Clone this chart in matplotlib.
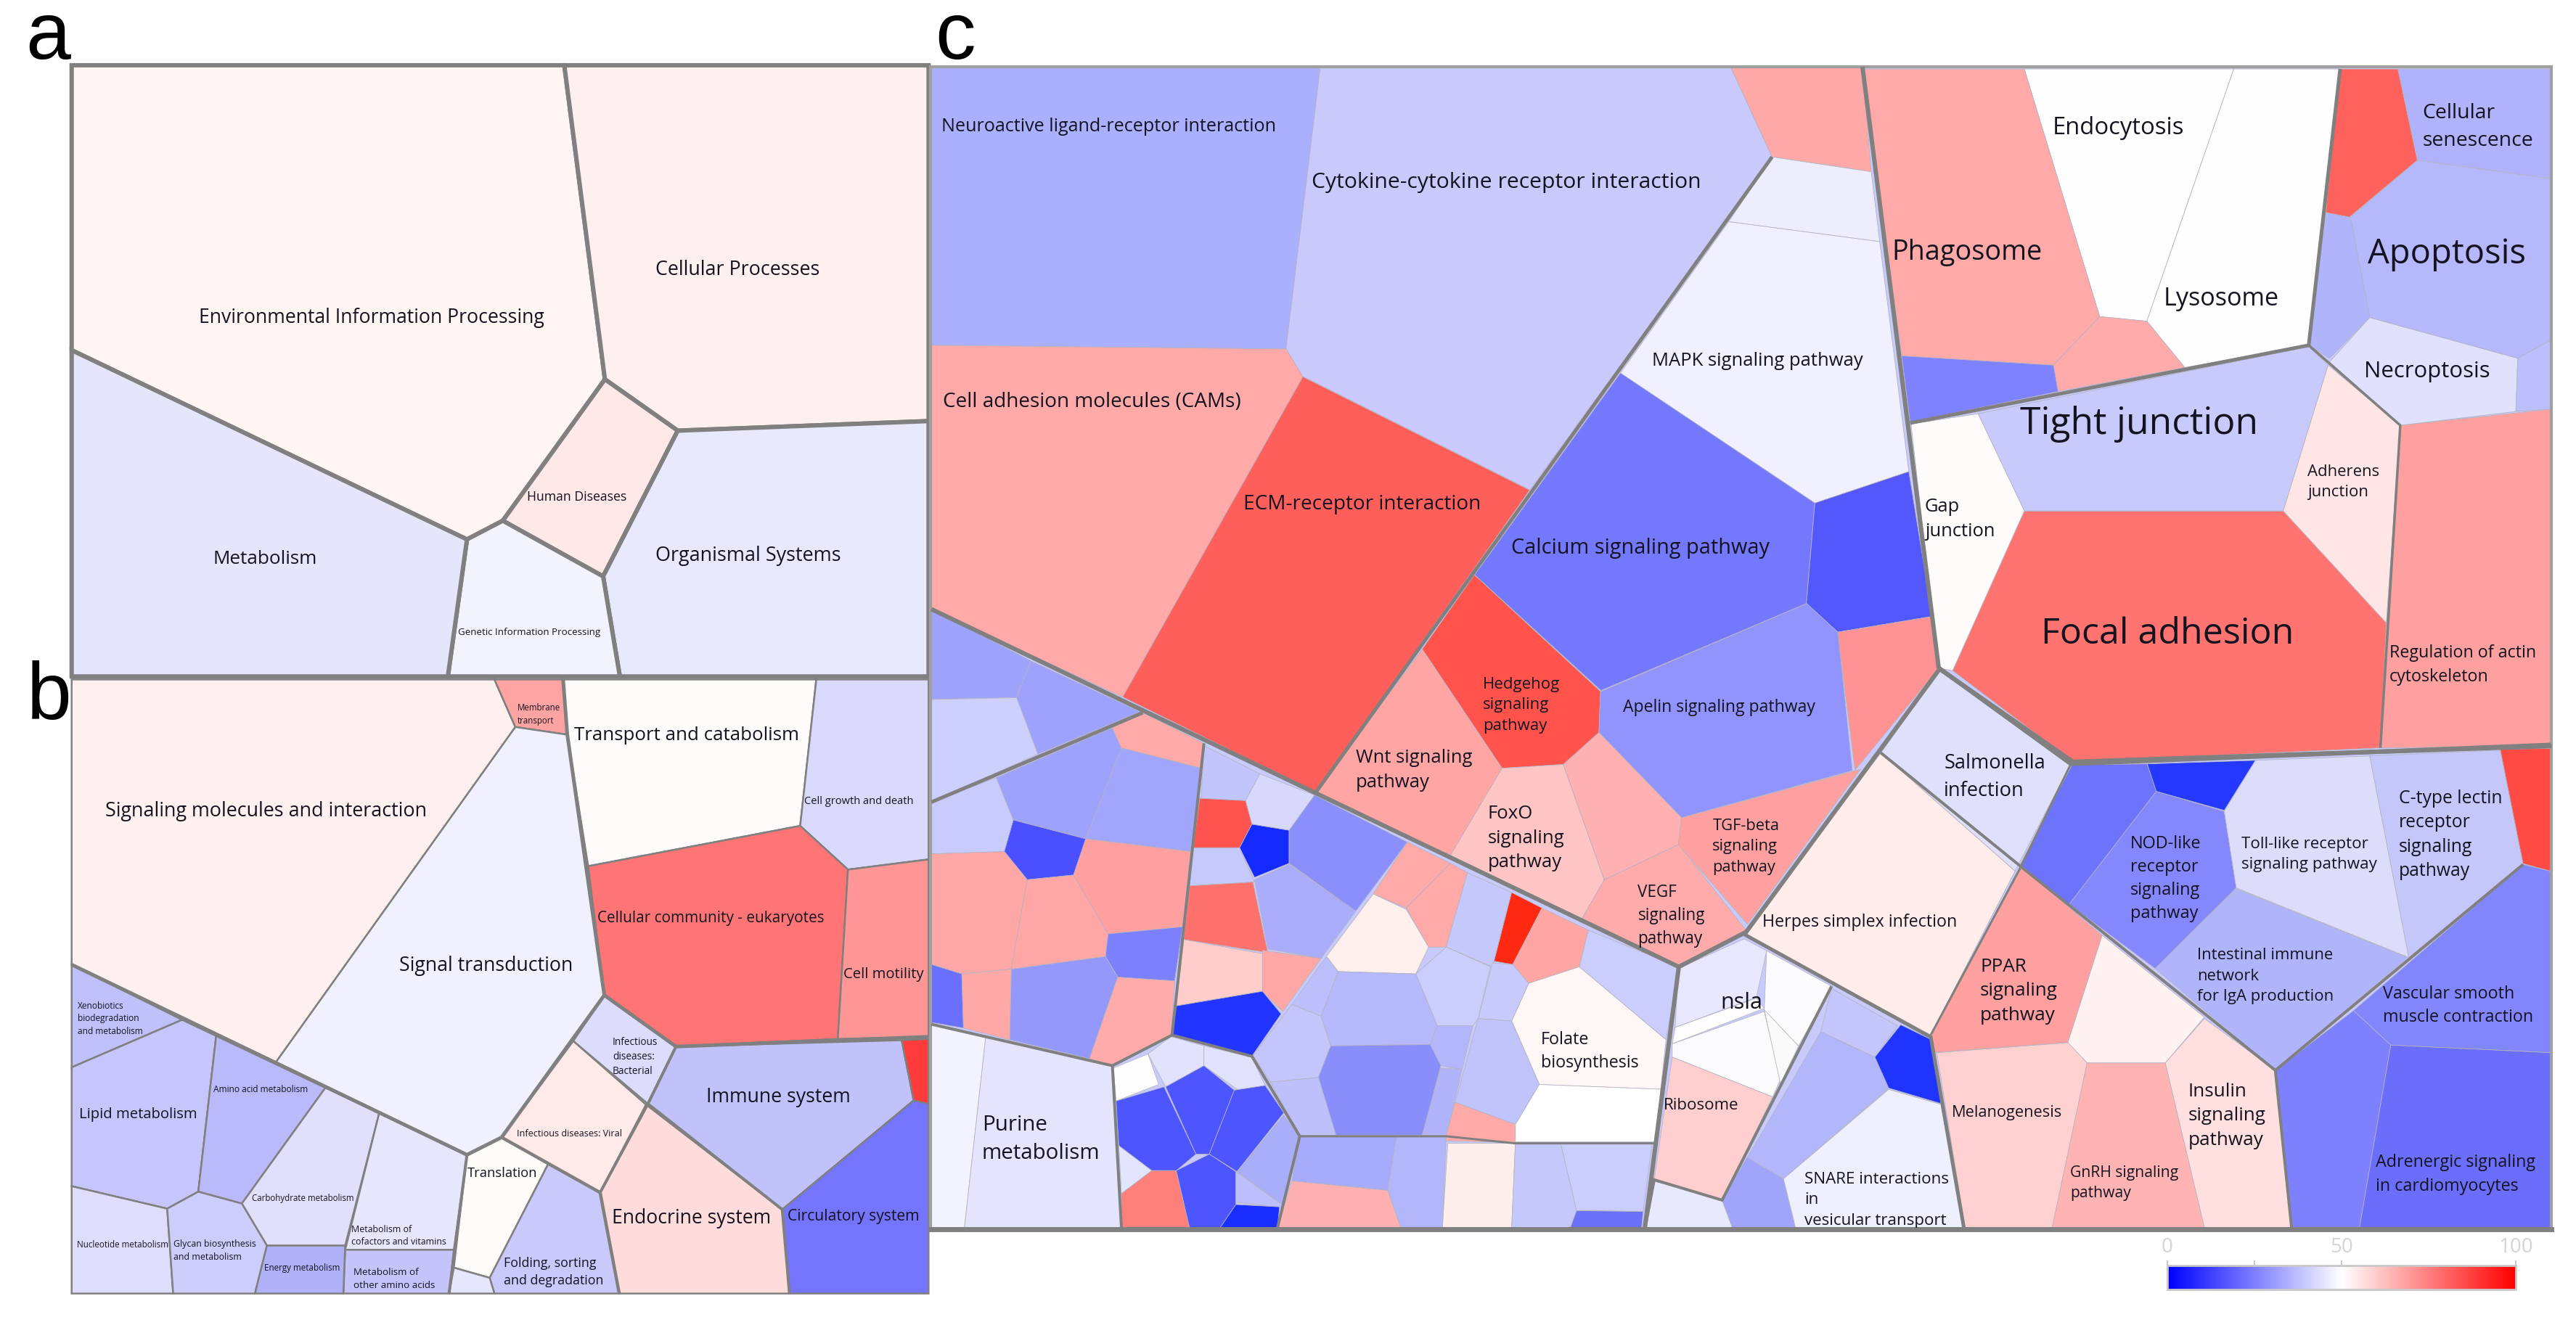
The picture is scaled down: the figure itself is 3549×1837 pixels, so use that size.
import matplotlib
matplotlib.use("Agg")
import matplotlib.pyplot as plt
import numpy as np
from matplotlib.colors import LinearSegmentedColormap
from matplotlib.patches import Polygon, Rectangle

W, H = 3549, 1837
GREY = "#808080"

# Voronoi cells have no scale, so vertices are read off the picture per region:
# each region is (x0, y0, width, height) in image pixels, vertices run 0..1568 inside it.
REGION_A = (0, 0, 1290, 940)
REGION_B = (0, 920, 1290, 917)
REGION_LOW_L = (1270, 820, 1150, 1017)
REGION_LOW_R = (2250, 880, 1299, 957)
REGION_TOP_L = (1270, 60, 1400, 1000)
REGION_TOP_R = (2550, 60, 999, 1000)

cells_a = [
    ("#fff5f3", [(120, 150), (945, 150), (1013, 872), (842, 1197), (782, 1240), (120, 805)]),
    ("#fff0f0", [(945, 150), (1555, 150), (1555, 968), (1135, 990), (1013, 872)]),
    ("#ffe8e8", [(1013, 872), (1135, 990), (1010, 1325), (842, 1197)]),
    ("#e9e9fd", [(1135, 990), (1555, 968), (1555, 1555), (1038, 1555), (1010, 1325)]),
    ("#f3f3fe", [(782, 1240), (842, 1197), (1010, 1325), (1038, 1555), (750, 1555)]),
    ("#e5e5fc", [(120, 805), (782, 1240), (750, 1555), (120, 1555)]),
]

cells_b = [
    ("#fff0f0", [(120, 28), (828, 28), (863, 140), (462, 930), (120, 700)]),
    ("#ffa3a3", [(828, 28), (943, 28), (950, 158), (863, 140)]),
    ("#f0f0fe", [(863, 140), (950, 158), (1012, 772), (960, 880), (840, 1107), (782, 1148), (462, 930)]),
    ("#fffbfa", [(943, 28), (1367, 28), (1340, 373), (985, 468), (950, 158)]),
    ("#d9d9fb", [(1367, 28), (1555, 28), (1555, 452), (1420, 476), (1340, 373)]),
    ("#ff7575", [(985, 468), (1340, 373), (1420, 476), (1403, 875), (1132, 893), (1012, 772)]),
    ("#ff9696", [(1420, 476), (1555, 452), (1555, 870), (1403, 875)]),
    ("#c2c2fb", [(1132, 893), (1510, 878), (1530, 1020), (1310, 1277), (1085, 1028)]),
    ("#ff3b3b", [(1510, 878), (1555, 875), (1555, 1030), (1530, 1020)]),
    ("#7474fd", [(1530, 1020), (1555, 1028), (1555, 1475), (1322, 1475), (1310, 1277)]),
    ("#dcdcfc", [(1012, 772), (1132, 893), (1085, 1028), (960, 880)]),
    ("#ffe9e9", [(960, 880), (1082, 1030), (1005, 1237), (840, 1107)]),
    ("#ffdcdc", [(1082, 1030), (1310, 1277), (1322, 1475), (1037, 1475), (1005, 1237)]),
    ("#fffbf9", [(840, 1107), (918, 1170), (820, 1438), (760, 1414), (782, 1148)]),
    ("#c9c9fc", [(918, 1170), (1005, 1237), (1037, 1475), (828, 1475), (820, 1438)]),
    ("#e6e6fd", [(760, 1414), (820, 1438), (828, 1475), (752, 1475)]),
    ("#c0c0fb", [(120, 700), (305, 830), (120, 942)]),
    ("#c6c6fc", [(120, 942), (305, 830), (362, 868), (332, 1235), (280, 1275), (120, 1222)]),
    ("#babafb", [(362, 868), (545, 990), (405, 1263), (332, 1235)]),
    ("#e0e0fc", [(545, 990), (635, 1050), (578, 1362), (447, 1362), (405, 1263)]),
    ("#e6e6fd", [(635, 1050), (782, 1148), (760, 1372), (578, 1372)]),
    ("#c4c4fb", [(578, 1372), (760, 1372), (752, 1475), (575, 1475)]),
    ("#dedefc", [(120, 1222), (280, 1275), (290, 1475), (120, 1475)]),
    ("#cdcdfc", [(280, 1275), (332, 1235), (405, 1263), (447, 1362), (427, 1475), (290, 1475)]),
    ("#b1b1fa", [(447, 1362), (578, 1362), (575, 1475), (427, 1475)]),
]

cells_top_l = [
    ("#abb0fe", [(14, 50), (615, 50), (562, 660), (14, 652)]),
    ("#c9c9fc", [(615, 50), (1248, 50), (1312, 245), (938, 965), (588, 720), (562, 660)]),
    ("#ffa8a8", [(1248, 50), (1451, 50), (1465, 277), (1312, 245)]),
    ("#ededfd", [(1312, 245), (1465, 277), (1478, 428), (1245, 385)]),
    ("#f0f0fe", [(1245, 385), (1478, 428), (1523, 925), (1378, 993), (1078, 712)]),
    ("#7478fd", [(1078, 712), (1378, 993), (1365, 1210), (1048, 1398), (853, 1148)]),
    ("#5358fd", [(1378, 993), (1523, 925), (1559, 1238), (1413, 1272), (1365, 1210)]),
    ("#ffa9a9", [(14, 652), (562, 660), (588, 720), (310, 1412), (14, 1222)]),
    ("#ff5f5b", [(588, 720), (938, 965), (608, 1618), (310, 1412)]),
    ("#ff9292", [(1413, 1272), (1559, 1238), (1569, 1350), (1440, 1570)]),
]

cells_top_r = [
    ("#ff7470", [(375, 1010), (935, 1010), (1158, 1252), (1145, 1522), (480, 1552), (220, 1355)]),
    ("#c9cafc", [(275, 800), (990, 655), (1032, 695), (935, 1010), (375, 1010)]),
    ("#fffbfa", [(130, 822), (275, 800), (375, 1010), (220, 1355), (190, 1350)]),
    ("#ffe5e5", [(1032, 695), (1188, 825), (1158, 1252), (935, 1010)]),
    ("#ffa0a0", [(1188, 825), (1515, 790), (1515, 1518), (1145, 1522), (1158, 1252)]),
    ("#e0e1fc", [(1122, 592), (1442, 680), (1438, 795), (1188, 825), (1035, 688)]),
    ("#bcbffc", [(1442, 680), (1515, 640), (1515, 790), (1438, 795)]),
    ("#b5b8fb", [(1225, 252), (1515, 292), (1515, 640), (1442, 680), (1122, 592), (1080, 375)]),
    ("#b0b4fb", [(1027, 365), (1080, 375), (1122, 592), (1035, 680), (990, 652)]),
    ("#ff615d", [(1058, 55), (1183, 55), (1225, 252), (1078, 375), (1027, 365)]),
    ("#b0b3fb", [(1183, 55), (1515, 55), (1515, 292), (1225, 252)]),
    ("#fffefe", [(375, 55), (828, 55), (640, 600), (538, 590)]),
    ("#fffefe", [(828, 55), (1058, 55), (990, 652), (722, 700), (640, 600)]),
    ("#ffa9a9", [(25, 55), (375, 55), (538, 590), (438, 695), (110, 675)]),
    ("#ffabab", [(538, 590), (640, 600), (722, 700), (448, 752), (438, 695)]),
    ("#7e82fc", [(110, 675), (438, 695), (448, 752), (128, 818)]),
]

cells_low_l = [
    ("#ff534c", [(1038, -43), (1275, 205), (1272, 292), (1205, 360), (1090, 368), (940, 115)]),
    ("#9094fc", [(1275, 205), (1662, 18), (1721, 79), (1748, 373), (1427, 473), (1272, 292)]),
    ("#ffa6a4", [(940, 115), (1090, 368), (993, 553), (740, 420)]),
    ("#ffc4c4", [(1090, 368), (1205, 360), (1282, 605), (1240, 688), (993, 553)]),
    ("#ffb0b0", [(1205, 360), (1272, 292), (1427, 473), (1422, 530), (1282, 605)]),
    ("#ffabab", [(1282, 605), (1422, 530), (1550, 715), (1425, 790), (1240, 688)]),
    ("#9ea3fc", [(18, 30), (205, 140), (178, 218), (18, 222)]),
    ("#9ea2fc", [(205, 140), (410, 248), (218, 338), (178, 218)]),
    ("#cdcffc", [(18, 222), (178, 218), (218, 338), (18, 440)]),
    ("#c9cbfc", [(18, 440), (140, 388), (172, 478), (155, 545), (18, 550)]),
    ("#9da2fc", [(140, 388), (358, 282), (375, 325), (308, 518), (172, 478)]),
    ("#ffa9a9", [(358, 282), (415, 250), (530, 315), (525, 368), (375, 325)]),
    ("#a1a5fc", [(375, 325), (525, 368), (505, 545), (308, 518)]),
    ("#4a4fff", [(172, 478), (308, 518), (285, 595), (198, 605), (155, 545)]),
    ("#ffa7a7", [(18, 550), (155, 545), (198, 605), (168, 795), (75, 805), (18, 785)]),
    ("#ffa7a7", [(198, 605), (285, 595), (350, 720), (345, 768), (168, 795)]),
    ("#ff9f9f", [(308, 518), (505, 545), (490, 705), (350, 720), (285, 595)]),
    ("#7c80fd", [(350, 720), (490, 705), (475, 820), (368, 812), (345, 768)]),
    ("#9498fb", [(168, 795), (345, 768), (368, 812), (315, 985), (165, 945)]),
    ("#ffabab", [(368, 812), (475, 820), (468, 935), (358, 1000), (315, 985)]),
    ("#ffa8a8", [(75, 805), (168, 795), (165, 945), (78, 920)]),
    ("#6b6ffd", [(18, 785), (75, 805), (78, 920), (18, 908)]),
    ("#f2f3fe", [(18, 912), (120, 940), (80, 1345), (18, 1345)]),
    ("#e4e5fd", [(120, 940), (358, 1000), (375, 1345), (80, 1345)]),
    ("#c2c5fb", [(530, 320), (635, 380), (608, 437), (525, 432)]),
    ("#d7d8fc", [(635, 380), (738, 425), (690, 500), (620, 487), (608, 437)]),
    ("#ff534f", [(522, 432), (608, 437), (620, 487), (597, 537), (510, 537)]),
    ("#142aff", [(620, 487), (690, 500), (690, 570), (625, 600), (597, 537)]),
    ("#c6c9fc", [(510, 537), (597, 537), (625, 610), (503, 618)]),
    ("#8a8ffc", [(738, 425), (912, 525), (815, 672), (690, 570), (690, 500)]),
    ("#a9adfb", [(625, 605), (690, 572), (815, 672), (750, 772), (650, 752)]),
    ("#ff716d", [(503, 618), (622, 610), (650, 760), (492, 732)]),
    ("#ffcccc", [(492, 732), (640, 762), (640, 842), (478, 873)]),
    ("#ffa7a5", [(640, 755), (750, 772), (678, 885), (640, 842)]),
    ("#2234ff", [(478, 873), (640, 842), (675, 890), (620, 980), (470, 935)]),
    ("#ffa9a9", [(912, 525), (993, 570), (910, 665), (848, 635)]),
    ("#ffa9a8", [(993, 570), (1025, 590), (985, 748), (952, 748), (910, 665)]),
    ("#ffefed", [(848, 635), (910, 668), (952, 748), (928, 805), (782, 800), (760, 768)]),
    ("#c5c8fb", [(1025, 590), (1108, 632), (1072, 790), (985, 748)]),
    ("#ff2810", [(1108, 632), (1165, 665), (1110, 785), (1075, 778)]),
    ("#ffa5a4", [(1165, 665), (1252, 712), (1235, 790), (1140, 825), (1110, 785)]),
    ("#cbcdfc", [(1252, 712), (1422, 790), (1398, 945), (1235, 790)]),
    ("#fff7f5", [(1235, 790), (1398, 945), (1388, 1050), (1160, 1040), (1108, 905), (1140, 825)]),
    ("#c8cafb", [(1072, 782), (1110, 785), (1140, 825), (1108, 905), (1045, 900)]),
    ("#cbcdfc", [(985, 748), (1068, 790), (1045, 900), (1035, 915), (968, 915), (928, 805)]),
    ("#b5b8fa", [(782, 800), (928, 805), (968, 915), (955, 955), (768, 958), (750, 895)]),
    ("#bcbffb", [(760, 768), (782, 800), (750, 895), (695, 870)]),
    ("#c3c5fb", [(695, 870), (750, 895), (768, 958), (745, 1025), (655, 1035), (622, 978)]),
    ("#b3b6fb", [(968, 915), (1035, 915), (1015, 1008), (975, 1000), (955, 955)]),
    ("#8a8efb", [(768, 958), (955, 955), (975, 1000), (940, 1148), (778, 1148), (745, 1025)]),
    ("#bdc0fb", [(655, 1035), (745, 1025), (778, 1148), (710, 1148)]),
    ("#b1b4fa", [(975, 1005), (1015, 1008), (985, 1150), (940, 1148)]),
    ("#c1c4fb", [(1045, 900), (1108, 905), (1160, 1040), (1115, 1125), (1002, 1078)]),
    ("#ffa9a9", [(1002, 1078), (1115, 1125), (1115, 1163), (982, 1160)]),
    ("#ffffff", [(1160, 1040), (1388, 1050), (1380, 1162), (1115, 1162), (1115, 1125)]),
    ("#a6abfb", [(710, 1150), (892, 1150), (875, 1265), (695, 1245)]),
    ("#b2b6fb", [(892, 1150), (985, 1150), (978, 1345), (900, 1345), (875, 1265)]),
    ("#ffefec", [(988, 1165), (1115, 1165), (1108, 1345), (978, 1345)]),
    ("#c5c8fb", [(1115, 1165), (1200, 1165), (1230, 1308), (1218, 1345), (1108, 1345)]),
    ("#cbcdfc", [(1200, 1165), (1372, 1165), (1355, 1310), (1230, 1308)]),
    ("#6c71fb", [(1230, 1308), (1355, 1310), (1352, 1345), (1218, 1345)]),
    ("#ffb0b0", [(695, 1245), (875, 1265), (900, 1345), (668, 1345)]),
    ("#fffefe", [(360, 1005), (425, 975), (445, 1040), (365, 1075)]),
    ("#e1e3fd", [(425, 975), (468, 938), (530, 958), (530, 1000), (458, 1045)]),
    ("#e1e3fd", [(530, 958), (620, 982), (645, 1042), (595, 1052), (530, 1000)]),
    ("#4d55ff", [(365, 1075), (455, 1045), (515, 1188), (478, 1223), (432, 1223), (370, 1170)]),
    ("#4d55ff", [(458, 1045), (530, 1000), (587, 1052), (540, 1188), (515, 1188)]),
    ("#4d55ff", [(587, 1052), (645, 1042), (680, 1100), (592, 1225), (540, 1188)]),
    ("#a9aefb", [(680, 1105), (708, 1150), (680, 1298), (592, 1225)]),
    ("#e3e4fd", [(370, 1170), (432, 1223), (375, 1272)]),
    ("#ff7f7b", [(432, 1223), (478, 1223), (503, 1345), (375, 1345), (375, 1272)]),
    ("#4d55ff", [(478, 1223), (540, 1188), (590, 1225), (590, 1295), (560, 1345), (503, 1345)]),
    ("#bcbffc", [(590, 1225), (680, 1298), (675, 1302), (590, 1290)]),
    ("#1a2fff", [(590, 1295), (672, 1300), (668, 1345), (560, 1345)]),
]

cells_low_r = [
    ("#ffa0a0", [(80, 405), (378, 295), (190, 645), (75, 465)]),
    ("#dee0fc", [(510, 72), (728, 283), (635, 525), (412, 258)]),
    ("#ffeceb", [(412, 258), (635, 525), (495, 895), (185, 668)]),
    ("#e7e8fd", [(75, 745), (185, 678), (222, 705), (205, 810), (70, 878)]),
    ("#fcfbfe", [(222, 705), (330, 785), (275, 920), (218, 840)]),
    ("#fffdfd", [(70, 878), (205, 812), (218, 835), (65, 915)]),
    ("#fbfbfe", [(65, 915), (218, 842), (245, 995), (232, 1035), (65, 945)]),
    ("#fbfafa", [(218, 838), (275, 920), (245, 1005)]),
    ("#ffcfcf", [(65, 945), (232, 1035), (148, 1268), (35, 1222)]),
    ("#e8e9fd", [(35, 1225), (148, 1268), (165, 1330), (20, 1330)]),
    ("#a0a5fb", [(148, 1268), (190, 1170), (250, 1220), (270, 1330), (165, 1330)]),
    ("#c3c5fb", [(330, 790), (440, 875), (402, 945), (312, 888)]),
    ("#b2b6fb", [(312, 888), (402, 945), (425, 1015), (250, 1220), (190, 1172)]),
    ("#1f35ff", [(445, 872), (495, 905), (512, 1050), (425, 1015), (402, 945)]),
    ("#eef0fe", [(425, 1018), (512, 1052), (550, 1330), (270, 1330), (250, 1220)]),
    ("#ffd0d0", [(505, 935), (725, 912), (755, 958), (697, 1330), (552, 1330)]),
    ("#ffb3b3", [(755, 958), (885, 958), (950, 1330), (697, 1330)]),
    ("#ffdfdf", [(885, 958), (950, 858), (1068, 975), (1095, 1330), (950, 1330)]),
    ("#ffa0a0", [(645, 515), (780, 670), (723, 912), (498, 935), (495, 895)]),
    ("#fff2f0", [(780, 670), (950, 855), (885, 958), (755, 958), (723, 912)]),
    ("#b0b4fb", [(1003, 565), (1288, 720), (1068, 975), (868, 745)]),
    ("#8488fc", [(870, 345), (983, 390), (1003, 563), (868, 745), (725, 600)]),
    ("#6e73fc", [(730, 285), (855, 283), (870, 345), (725, 600), (642, 515)]),
    ("#2438ff", [(855, 283), (1035, 275), (983, 388), (870, 345)]),
    ("#dcddfb", [(1035, 275), (1225, 265), (1290, 720), (1003, 563), (983, 390)]),
    ("#c5c7fb", [(1225, 265), (1442, 252), (1480, 508), (1290, 720)]),
    ("#ff4b43", [(1442, 250), (1525, 248), (1525, 525), (1480, 508)]),
    ("#8286fc", [(1480, 510), (1525, 525), (1525, 935), (1260, 918), (1198, 840)]),
    ("#7d81fd", [(1198, 840), (1260, 918), (1208, 1330), (1095, 1330), (1068, 975)]),
    ("#6b6efb", [(1260, 918), (1525, 935), (1525, 1330), (1208, 1330)]),
]

# heavier group borders, (points, width in image pixels)
borders_b = [
    ([(120, 700), (782, 1148), (840, 1107), (1012, 772), (950, 158), (943, 28)], 5),
    ([(782, 1148), (752, 1475)], 4),
    ([(840, 1107), (1005, 1237), (1037, 1475)], 4.5),
    ([(1012, 772), (1132, 893), (1555, 870)], 5),
    ([(1132, 893), (1085, 1028), (1005, 1237)], 4),
    ([(1085, 1028), (1310, 1277), (1322, 1475)], 4),
]
borders_top_l = [([(1312, 245), (608, 1618)], 5)]
borders_top_r = [
    ([(25, 50), (190, 1350)], 6),
    ([(128, 820), (990, 652), (1058, 55)], 5),
    ([(990, 652), (1188, 825), (1145, 1522)], 3.5),
    ([(190, 1350), (480, 1552), (1515, 1518)], 6),
]
borders_low_l = [
    ([(18, 30), (1422, 790), (1358, 1345)], 6),
    ([(1422, 790), (1550, 715)], 6),
    ([(18, 440), (415, 250)], 5),
    ([(530, 315), (470, 935), (358, 1000), (18, 912)], 4),
    ([(358, 1000), (375, 1345)], 4),
    ([(470, 935), (620, 980), (710, 1150), (668, 1345)], 4),
    ([(710, 1150), (985, 1150), (1115, 1165), (1375, 1165)], 3),
]
borders_low_r = [
    ([(185, 668), (510, 68), (728, 283), (1525, 240)], 6),
    ([(185, 668), (495, 900), (550, 1330)], 5),
    ([(412, 258), (645, 515), (1068, 975), (1095, 1330)], 4),
    ([(728, 283), (645, 515), (495, 895)], 3),
    ([(1068, 975), (1480, 510)], 4),
    ([(330, 785), (148, 1268), (35, 1222), (20, 1330)], 4),
]

# label, left, right, centre y in the region's own 0..1568 coordinates
labels_a = [
    ("Environmental Information Processing", 333, 912, 730),
    ("Cellular Processes", 1098, 1373, 620),
    ("Human Diseases", 883, 1050, 1143),
    ("Metabolism", 357, 532, 1285),
    ("Organismal Systems", 1098, 1410, 1277),
    ("Genetic Information Processing", 767, 1005, 1453),
]
labels_b = [
    ("Signaling molecules and interaction", 176, 716, 338),
    ("Membrane\ntransport", 866, 938, 110),
    ("Transport and catabolism", 962, 1338, 160),
    ("Cell growth and death", 1347, 1530, 316),
    ("Cellular community - eukaryotes", 1000, 1381, 590),
    ("Cell motility", 1413, 1548, 723),
    ("Signal transduction", 669, 962, 702),
    ("Xenobiotics\nbiodegradation\nand metabolism", 130, 240, 827),
    ("Lipid metabolism", 132, 330, 1053),
    ("Amino acid metabolism", 357, 518, 995),
    ("Carbohydrate metabolism", 422, 593, 1250),
    ("Metabolism of\ncofactors and vitamins", 588, 747, 1339),
    ("Metabolism of\nother amino acids", 592, 728, 1441),
    ("Nucleotide metabolism", 129, 283, 1360),
    ("Glycan biosynthesis\nand metabolism", 290, 428, 1374),
    ("Energy metabolism", 443, 570, 1415),
    ("Translation", 783, 900, 1191),
    ("Folding, sorting\nand degradation", 844, 1011, 1424),
    ("Infectious\ndiseases:\nBacterial", 1026, 1102, 918),
    ("Infectious diseases: Viral", 866, 1042, 1099),
    ("Immune system", 1183, 1425, 1012),
    ("Endocrine system", 1025, 1291, 1297),
    ("Circulatory system", 1319, 1541, 1294),
]
labels_top_l = [
    ("Neuroactive ligand-receptor interaction", 30, 546, 180),
    ("Cytokine-cytokine receptor interaction", 602, 1203, 300),
    ("MAPK signaling pathway", 1127, 1453, 686),
    ("Cell adhesion molecules (CAMs)", 32, 490, 775),
    ("ECM-receptor interaction", 496, 863, 995),
    ("Calcium signaling pathway", 909, 1309, 1090),
    ("Hedgehog\nsignaling\npathway", 866, 985, 1430),
    ("Apelin signaling pathway", 1082, 1380, 1434),
]
labels_top_r = [
    ("Endocytosis", 436, 720, 182),
    ("Lysosome", 676, 925, 552),
    ("Phagosome", 88, 412, 452),
    ("Cellular\nsenescence", 1236, 1475, 180),
    ("Apoptosis", 1118, 1460, 455),
    ("Necroptosis", 1110, 1382, 708),
    ("Tight junction", 366, 884, 822),
    ("Adherens\njunction", 987, 1142, 948),
    ("Gap\njunction", 160, 312, 1028),
    ("Focal adhesion", 412, 958, 1276),
    ("Regulation of actin\ncytoskeleton", 1165, 1482, 1343),
]
labels_low_l = [
    ("Wnt signaling\npathway", 815, 1035, 372),
    ("FoxO\nsignaling\npathway", 1063, 1208, 517),
    ("VEGF\nsignaling\npathway", 1345, 1472, 682),
    ("Folate\nbiosynthesis", 1163, 1348, 970),
    ("Purine\nmetabolism", 113, 335, 1157),
]
labels_low_r = [
    ("TGF-beta\nsignaling\npathway", 132, 243, 470),
    ("Salmonella\ninfection", 517, 685, 313),
    ("Herpes simplex infection", 215, 540, 641),
    ("PPAR\nsignaling\npathway", 577, 707, 796),
    ("NOD-like\nreceptor\nsignaling\npathway", 827, 945, 542),
    ("Toll-like receptor\nsignaling pathway", 1012, 1238, 487),
    ("C-type lectin\nreceptor\nsignaling\npathway", 1273, 1445, 443),
    ("Intestinal immune\nnetwork\nfor IgA production", 938, 1165, 762),
    ("Vascular smooth\nmuscle contraction", 1247, 1498, 829),
    ("Melanogenesis", 530, 713, 1071),
    ("GnRH signaling\npathway", 727, 908, 1230),
    ("Insulin\nsignaling\npathway", 923, 1053, 1078),
    ("Adrenergic signaling\nin cardiomyocytes", 1235, 1502, 1210),
    ("SNARE interactions\nin\nvesicular transport", 285, 525, 1268),
    ("Ribosome", 50, 175, 1055),
    ("nsla", 145, 215, 822),
]

colorbar_ticks = [0, 25, 50, 100]
colorbar_labels = ["0", "50", "100"]


def to_px(points, region):
    x0, y0, w, h = region
    return [(x0 + x * w / 1568, y0 + y * h / 1568) for x, y in points]


plt.rcParams["font.family"] = "Open Sans"
fig = plt.figure(figsize=(W / 100, H / 100), dpi=100)
ax = fig.add_axes([0, 0, 1, 1])
renderer = fig.canvas.get_renderer()


def draw_cells(cells, region, edge, px):
    for color, pts in cells:
        ax.add_patch(Polygon(to_px(pts, region), closed=True, facecolor=color,
                             edgecolor=edge, linewidth=px * 0.72, joinstyle="miter"))


def draw_borders(borders, region):
    for pts, px in borders:
        xy = np.array(to_px(pts, region))
        ax.plot(xy[:, 0], xy[:, 1], color=GREY, linewidth=px * 0.72,
                solid_joinstyle="miter", solid_capstyle="butt")


def draw_labels(labels, region):
    x0, y0, w, h = region
    for name, left, right, yc in labels:
        px_left = x0 + left * w / 1568
        px_width = (right - left) * w / 1568
        t = ax.text(px_left, y0 + yc * h / 1568, name, fontsize=10, ha="left", va="center",
                    color="#141420", linespacing=1.45, clip_on=True)
        # the source font is unknown, so scale each label to the width it has in the picture
        t.set_fontsize(10 * px_width / t.get_window_extent(renderer).width)
        if name.startswith("SNARE"):
            t.set_clip_path(Rectangle((x0, y0), w, 1330 * h / 1568, transform=ax.transData))


# slivers between neighbouring cells should not show as white
ax.add_patch(Rectangle((1282, 92), 2233, 1602, facecolor="#c8cafb", edgecolor="none"))

draw_cells(cells_top_l, REGION_TOP_L, "#b4b4c0", 0.8)
draw_cells(cells_top_r, REGION_TOP_R, "#b4b4c0", 0.8)
draw_cells(cells_low_l, REGION_LOW_L, "#b4b4c0", 0.8)
draw_cells(cells_low_r, REGION_LOW_R, "#b4b4c0", 0.8)
draw_cells(cells_a, REGION_A, GREY, 6)
draw_cells(cells_b, REGION_B, GREY, 2.5)

draw_borders(borders_b, REGION_B)
draw_borders(borders_top_l, REGION_TOP_L)
draw_borders(borders_top_r, REGION_TOP_R)
draw_borders(borders_low_l, REGION_LOW_L)
draw_borders(borders_low_r, REGION_LOW_R)

# outer frame of panel c
ax.add_patch(Rectangle((1282, 92), 2233, 1602, fill=False, edgecolor="#a0a0a0", linewidth=3))
ax.plot([1282, 3515], [1694, 1694], color=GREY, linewidth=5)

for labels, region in [(labels_a, REGION_A), (labels_b, REGION_B), (labels_top_l, REGION_TOP_L),
                       (labels_top_r, REGION_TOP_R), (labels_low_l, REGION_LOW_L),
                       (labels_low_r, REGION_LOW_R)]:
    draw_labels(labels, region)

for letter, x, y in [("a", 35, 81), ("b", 37, 991), ("c", 1288, 81)]:
    ax.text(x, y, letter, fontsize=80, family="Liberation Sans", color="black",
            ha="left", va="baseline")

# colour key
bar_x0, bar_x1, bar_y0, bar_y1 = 2986, 3466, 1744, 1777
key_cmap = LinearSegmentedColormap.from_list("key", ["#0000ff", "#ffffff", "#ff0000"])
ax.imshow(np.linspace(0, 100, 256)[None, :], cmap=key_cmap, aspect="auto",
          extent=(bar_x0, bar_x1, bar_y1, bar_y0), zorder=3)
ax.add_patch(Rectangle((bar_x0, bar_y0), bar_x1 - bar_x0, bar_y1 - bar_y0, fill=False,
                       edgecolor="#c8c8c8", linewidth=2, zorder=4))
for v in colorbar_ticks:
    tx = bar_x0 + v / 100 * (bar_x1 - bar_x0)
    ax.plot([tx, tx], [bar_y0 - 6, bar_y0], color="#c8c8c8", linewidth=1.5)
for lab in colorbar_labels:
    tx = bar_x0 + int(lab) / 100 * (bar_x1 - bar_x0)
    ax.text(tx, 1719, lab, fontsize=20, color="#d4d4d4", ha="center", va="center")

ax.set_xlim(0, W)
ax.set_ylim(H, 0)
ax.axis("off")
fig.savefig("out.png", dpi=100, facecolor="white")
